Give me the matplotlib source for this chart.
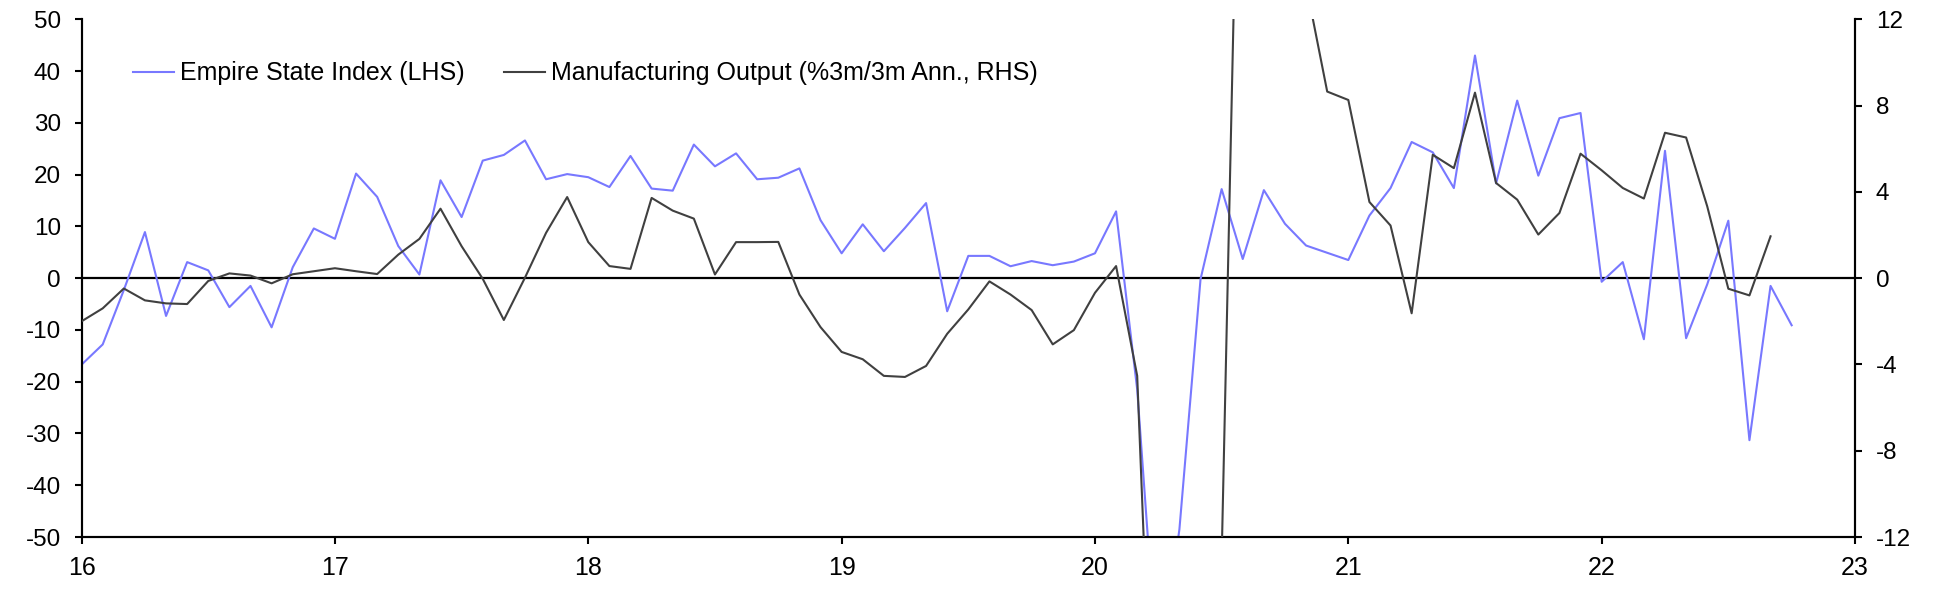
import matplotlib
matplotlib.use("Agg")
import matplotlib.pyplot as plt
import numpy as np

plt.rcParams['font.family'] = ['Liberation Sans', 'DejaVu Sans']
plt.rcParams['axes.unicode_minus'] = False

# Empire State Index (LHS), monthly Jan 2016 - Oct 2022
empire = [
    -16.7, -12.8, -2.3, 8.9, -7.3, 3.1, 1.5, -5.6, -1.5, -9.5, 2.1, 9.6,      # 2016
    7.6, 20.2, 15.7, 6.2, 0.7, 18.9, 11.8, 22.7, 23.8, 26.6, 19.1, 20.1,     # 2017
    19.5, 17.6, 23.6, 17.3, 16.9, 25.8, 21.6, 24.1, 19.1, 19.4, 21.2, 11.2,  # 2018
    4.8, 10.4, 5.2, 9.7, 14.5, -6.4, 4.3, 4.3, 2.3, 3.3, 2.5, 3.2,           # 2019
    4.8, 12.9, -21.5, -78.2, -48.5, -0.2, 17.2, 3.7, 17.0, 10.5, 6.3, 4.9,   # 2020
    3.5, 12.1, 17.4, 26.3, 24.3, 17.4, 43.0, 18.3, 34.3, 19.8, 30.9, 31.9,   # 2021
    -0.7, 3.1, -11.8, 24.6, -11.6, -1.2, 11.1, -31.3, -1.5, -9.1,            # 2022
]

# Manufacturing output, %3m/3m annualised (RHS), monthly Jan 2016 - Sep 2022
manuf = [
    -2.0, -1.4, -0.48, -1.03, -1.17, -1.2, -0.13, 0.22, 0.12, -0.24, 0.18, 0.32,
    0.46, 0.32, 0.19, 1.09, 1.82, 3.22, 1.48, -0.03, -1.94, 0.02, 2.1, 3.76,
    1.67, 0.56, 0.43, 3.72, 3.13, 2.76, 0.17, 1.67, 1.67, 1.68, -0.76, -2.27,
    -3.42, -3.76, -4.53, -4.58, -4.07, -2.58, -1.45, -0.15, -0.76, -1.48, -3.07, -2.41,
    -0.68, 0.56, -4.53, -29.0, -46.0, -47.0, -13.0, 31.6, 50.0, 27.0, 13.6, 8.65,
    8.26, 3.53, 2.44, -1.63, 5.72, 5.1, 8.6, 4.41, 3.64, 2.02, 3.02, 5.77,
    5.0, 4.18, 3.69, 6.74, 6.52, 3.33, -0.49, -0.80, 1.94,
]

start_year = 16
x_empire = start_year + np.arange(len(empire)) / 12.0
x_manuf = start_year + np.arange(len(manuf)) / 12.0

x_ticks = [16, 17, 18, 19, 20, 21, 22, 23]
x_labels = ["16", "17", "18", "19", "20", "21", "22", "23"]
left_ticks = [50, 40, 30, 20, 10, 0, -10, -20, -30, -40, -50]
right_ticks = [12, 8, 4, 0, -4, -8, -12]

label_empire = "Empire State Index (LHS)"
label_manuf = "Manufacturing Output (%3m/3m Ann., RHS)"

W, H = 1938, 615
fig = plt.figure(figsize=(W / 100, H / 100), dpi=100)
ax = fig.add_axes([81.6 / W, 1 - 537 / H, (1855 - 81.6) / W, (537 - 19.3) / H])
ax2 = ax.twinx()

blue = "#7878FF"
dark = "#404040"

ax.axhline(0, color="black", lw=1.6, zorder=1)
l1, = ax.plot(x_empire, empire, color=blue, lw=1.5, zorder=2)
l2, = ax2.plot(x_manuf, manuf, color=dark, lw=1.5, zorder=3)

ax.set_xlim(16, 23)
ax.set_ylim(-50, 50)
ax2.set_ylim(-12, 12)

ax.set_xticks(x_ticks)
ax.set_xticklabels(x_labels)
ax.set_yticks(left_ticks)
ax2.set_yticks(right_ticks)

for a in (ax, ax2):
    a.spines["top"].set_visible(False)
    for s in ("left", "right", "bottom"):
        a.spines[s].set_linewidth(1.5)

ax.tick_params(axis="y", direction="out", length=5, width=1.5, pad=10, labelsize=17.5)
ax2.tick_params(axis="y", direction="out", length=5, width=1.5, pad=10, labelsize=17.5)
ax.tick_params(axis="x", direction="out", length=5, width=1.5, pad=9, labelsize=18)

fs = 18
em = fs * 100 / 72.0
common = dict(frameon=False, loc="center left", borderpad=0, borderaxespad=0,
              handlelength=41 / em, handletextpad=6 / em, fontsize=fs,
              bbox_transform=fig.transFigure)
fig.legend([l1], [label_empire], bbox_to_anchor=(132.7 / W, 1 - 73.3 / H), **common)
fig.legend([l2], [label_manuf], bbox_to_anchor=(504 / W, 1 - 73.3 / H), **common)

fig.savefig("out.png", dpi=100)
